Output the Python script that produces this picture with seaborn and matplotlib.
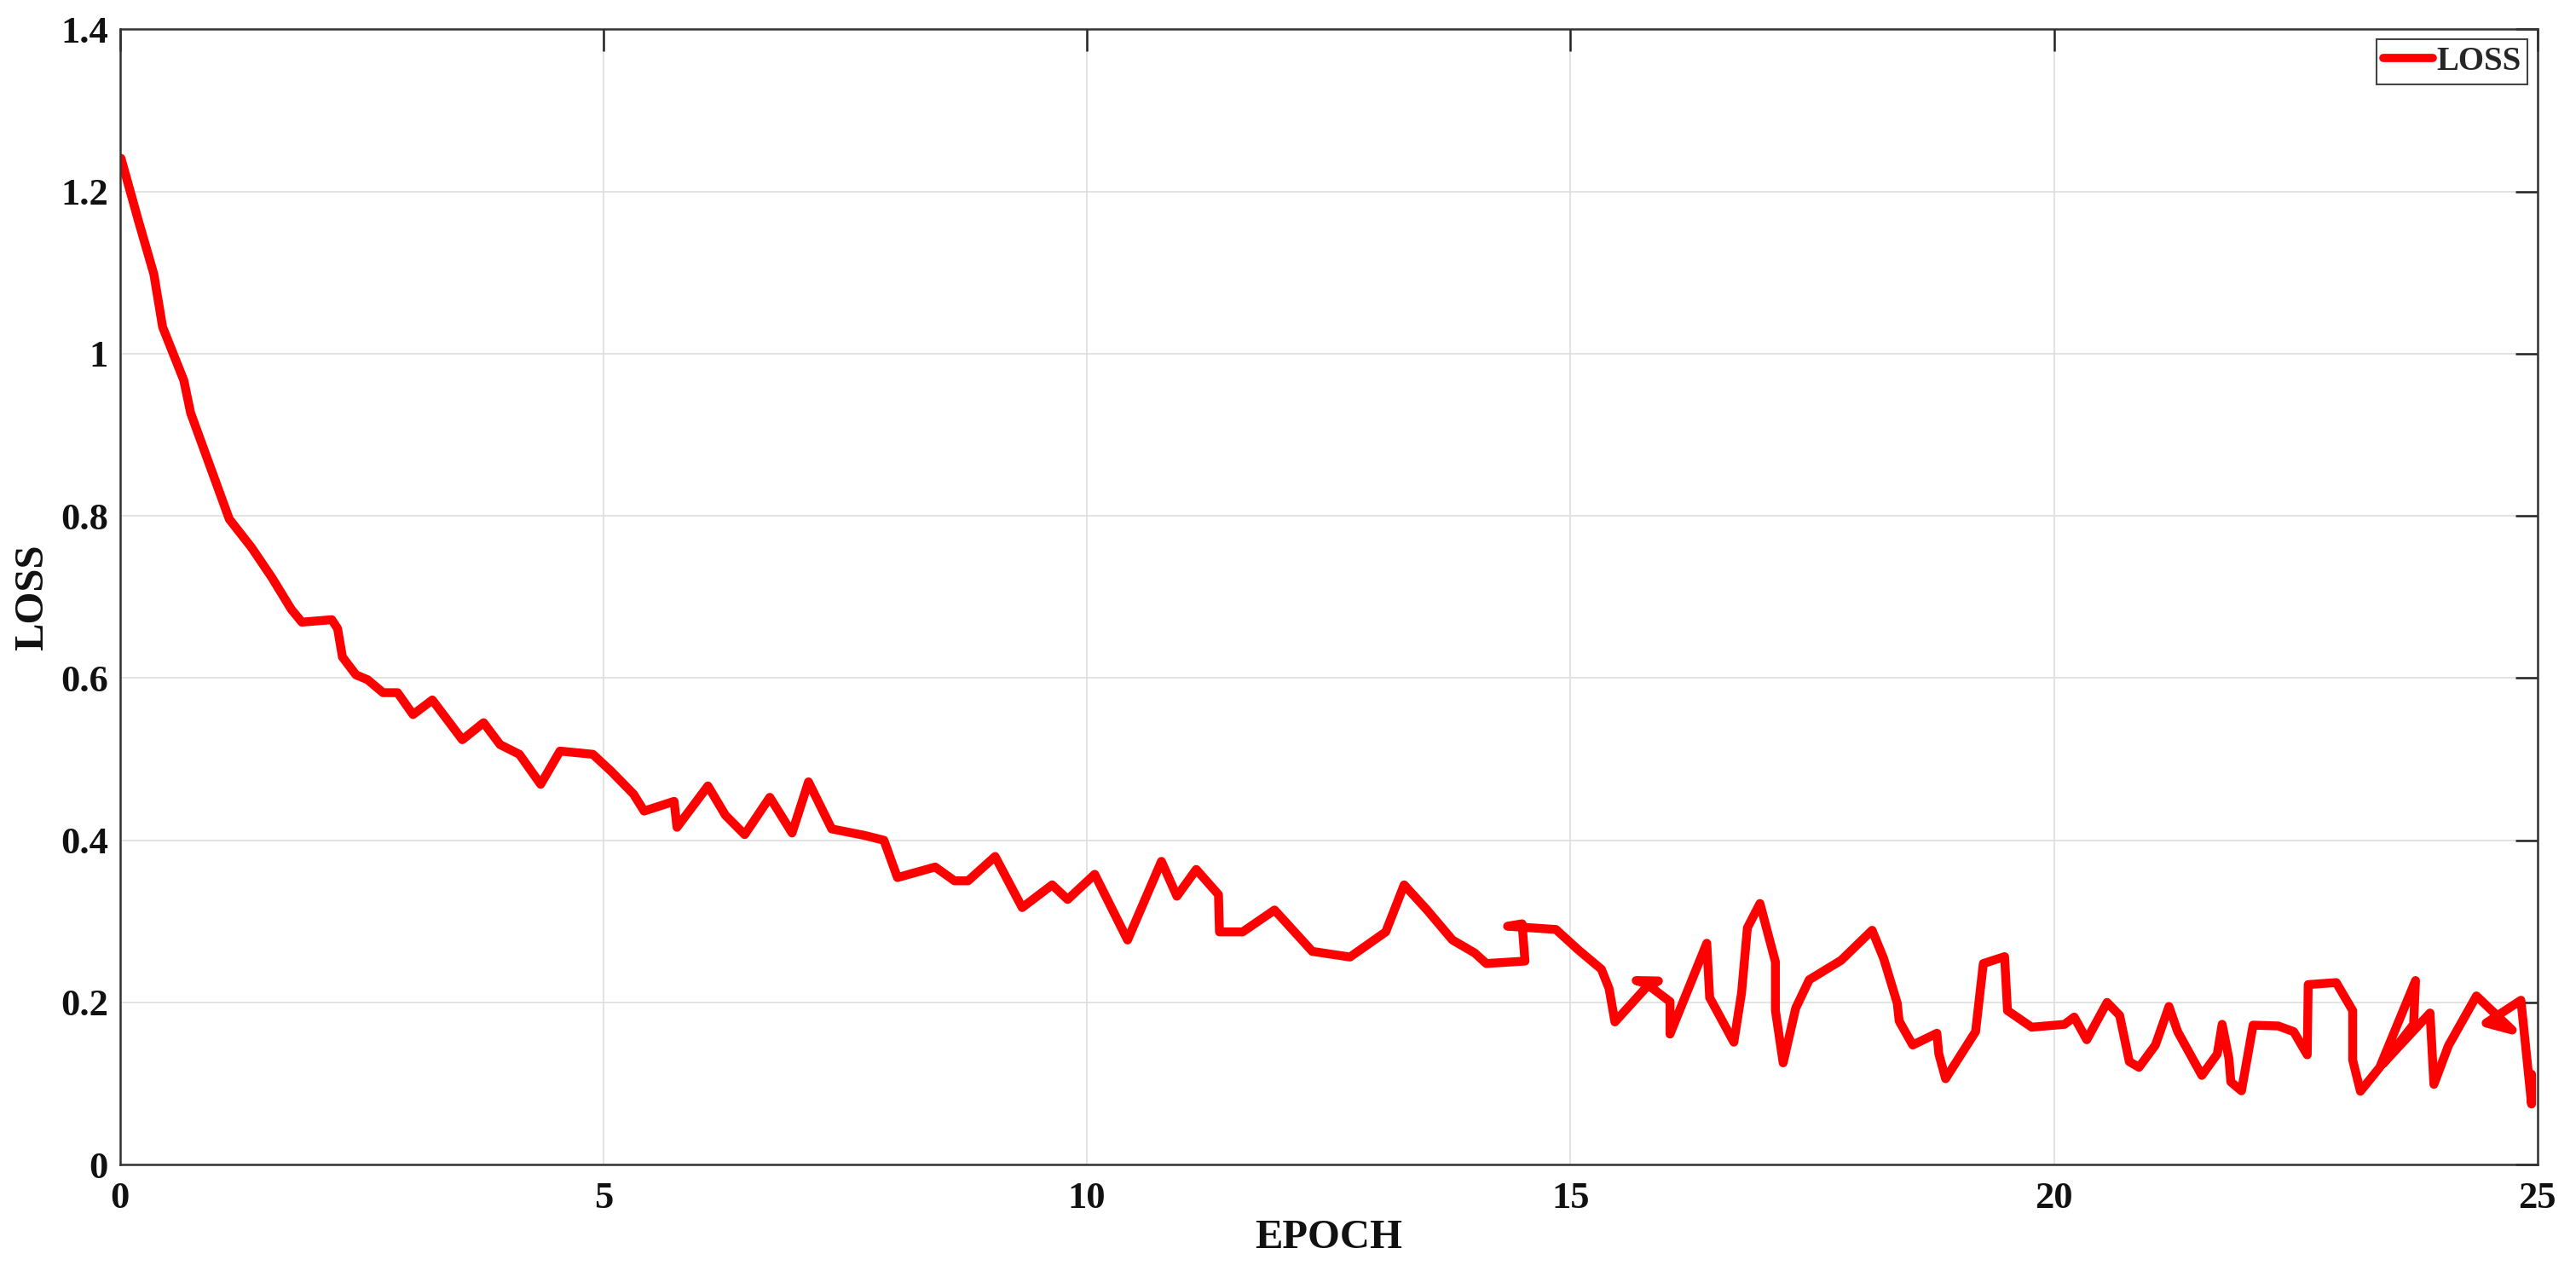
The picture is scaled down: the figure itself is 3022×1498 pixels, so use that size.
import matplotlib
matplotlib.use("Agg")
import matplotlib.pyplot as plt
import seaborn as sns
import pandas as pd
from matplotlib.ticker import FuncFormatter

epoch = [
    0.01, 0.19, 0.35, 0.44, 0.66, 0.73, 0.95, 1.13, 1.36, 1.57,
    1.77, 1.88, 2.19, 2.25, 2.30, 2.44, 2.56, 2.72, 2.87, 3.03,
    3.23, 3.54, 3.76, 3.93, 4.13, 4.35, 4.55, 4.89, 5.08, 5.31,
    5.42, 5.73, 5.76, 6.08, 6.26, 6.46, 6.72, 6.95, 7.12, 7.36,
    7.70, 7.90, 8.04, 8.43, 8.63, 8.77, 9.05, 9.33, 9.64, 9.80,
    10.08, 10.42, 10.77, 10.93, 11.13, 11.36, 11.37, 11.61, 11.94, 12.33,
    12.72, 13.09, 13.28, 13.51, 13.78, 14.01, 14.13, 14.53, 14.50, 14.35,
    14.85, 15.08, 15.32, 15.40, 15.46, 15.81, 15.68, 15.91, 15.82, 16.03,
    16.03, 16.41, 16.44, 16.69, 16.77, 16.83, 16.96, 17.12, 17.12, 17.20,
    17.33, 17.47, 17.80, 18.12, 18.24, 18.38, 18.40, 18.54, 18.79, 18.81,
    18.88, 19.19, 19.27, 19.49, 19.52, 19.77, 20.11, 20.21, 20.34, 20.55,
    20.68, 20.78, 20.88, 21.05, 21.19, 21.28, 21.53, 21.69, 21.74, 21.81,
    21.83, 21.94, 22.06, 22.32, 22.48, 22.62, 22.63, 22.92, 23.09, 23.09,
    23.17, 23.37, 23.74, 23.72, 23.40, 23.89, 23.93, 24.08, 24.37, 24.74,
    24.47, 24.83, 24.94, 24.94,
]
loss = [
    1.241, 1.164, 1.098, 1.033, 0.967, 0.927, 0.855, 0.796, 0.761, 0.724,
    0.685, 0.669, 0.672, 0.661, 0.626, 0.604, 0.598, 0.582, 0.582, 0.555,
    0.573, 0.524, 0.545, 0.518, 0.506, 0.469, 0.510, 0.506, 0.485, 0.457,
    0.436, 0.448, 0.416, 0.467, 0.431, 0.407, 0.453, 0.409, 0.472, 0.414,
    0.406, 0.400, 0.354, 0.367, 0.350, 0.350, 0.380, 0.317, 0.345, 0.327,
    0.358, 0.277, 0.374, 0.331, 0.364, 0.333, 0.287, 0.287, 0.314, 0.263,
    0.256, 0.287, 0.345, 0.315, 0.277, 0.261, 0.248, 0.251, 0.297, 0.294,
    0.290, 0.265, 0.241, 0.217, 0.176, 0.222, 0.227, 0.2265, 0.220, 0.201,
    0.161, 0.273, 0.206, 0.151, 0.212, 0.292, 0.322, 0.250, 0.190, 0.1255,
    0.193, 0.228, 0.252, 0.289, 0.254, 0.199, 0.177, 0.1475, 0.162, 0.1365,
    0.106, 0.164, 0.248, 0.2565, 0.190, 0.1695, 0.173, 0.182, 0.154, 0.200,
    0.184, 0.127, 0.120, 0.1475, 0.195, 0.164, 0.110, 0.1365, 0.173, 0.131,
    0.102, 0.091, 0.172, 0.171, 0.164, 0.1354, 0.222, 0.2245, 0.190, 0.129,
    0.0905, 0.120, 0.227, 0.173, 0.124, 0.187, 0.099, 0.1466, 0.208, 0.166,
    0.1746, 0.2027, 0.0747, 0.1115,
]
xticks = [0, 5, 10, 15, 20, 25]
yticks = [0, 0.2, 0.4, 0.6, 0.8, 1.0, 1.2, 1.4]
series_name = "LOSS"
x_label = "EPOCH"
y_label = "LOSS"

df = pd.DataFrame({"epoch": epoch, "loss": loss})

sns.set_style("white")
plt.rcParams["font.family"] = ["Liberation Serif", "DejaVu Serif"]
plt.rcParams["font.weight"] = "bold"

fig = plt.figure(figsize=(30.22, 14.98), dpi=100)
ax = fig.add_axes([0.0466, 0.088, 0.9384, 0.889])

sns.lineplot(data=df, x="epoch", y="loss", sort=False, estimator=None,
             color="#ff0000", linewidth=7.5, label=series_name, ax=ax)

ax.set_xlim(0, 25)
ax.set_ylim(0, 1.4)
ax.set_xticks(xticks)
ax.set_yticks(yticks)
ax.xaxis.set_major_formatter(FuncFormatter(lambda v, p: f"{v:g}"))
ax.yaxis.set_major_formatter(FuncFormatter(lambda v, p: f"{v:g}"))

ax.grid(True, color="#dedede", linewidth=1.2)
ax.set_axisbelow(True)
for s in ax.spines.values():
    s.set_visible(True)
    s.set_color("#333333")
    s.set_linewidth(1.8)

ax.tick_params(axis="both", which="major", direction="in", length=19, width=1.8,
               color="#222222", labelsize=32, top=True, right=True)
ax.tick_params(axis="x", pad=14)
ax.tick_params(axis="y", pad=10)
for lab in ax.get_xticklabels() + ax.get_yticklabels():
    lab.set_fontweight("bold")
    lab.set_color("#111111")

ax.set_xlabel(x_label, fontsize=35, fontweight="bold", color="#111111")
ax.set_ylabel(y_label, fontsize=35, fontweight="bold", color="#111111")
ax.xaxis.set_label_coords(0.5, -0.0646)
ax.xaxis.label.set_va("center")
ax.yaxis.set_label_coords(-0.0363, 0.5)
ax.yaxis.label.set_va("center")

leg = ax.legend(loc="upper right", prop={"family": "Liberation Serif", "weight": "bold", "size": 28},
                frameon=True, fancybox=False, edgecolor="#444444", framealpha=1,
                handlelength=1.5, handletextpad=0.1, borderaxespad=0.3,
                borderpad=0.2)
leg.get_frame().set_linewidth(1.5)
for line in leg.get_lines():
    line.set_linewidth(7)

fig.savefig("out.png", dpi=100, facecolor="white")
